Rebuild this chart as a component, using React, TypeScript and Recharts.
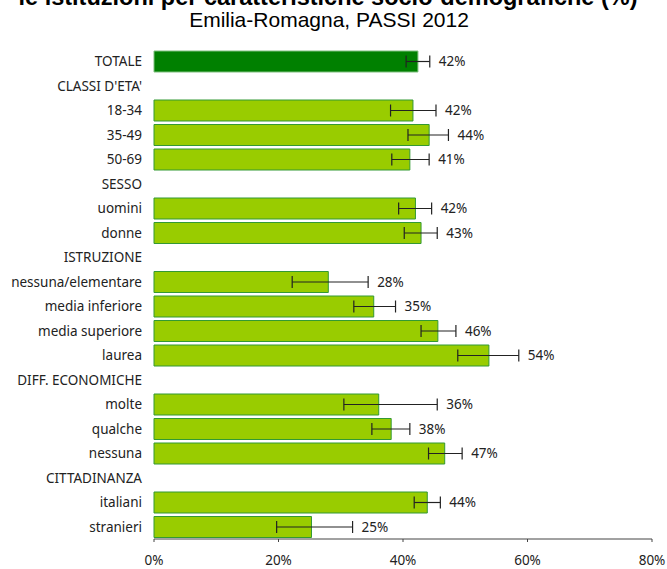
import React from 'react';
import { BarChart, Bar, XAxis, YAxis, ErrorBar, Cell, LabelList } from 'recharts';

const categories = [
  'TOTALE', "CLASSI D'ETA'", '18-34', '35-49', '50-69', 'SESSO', 'uomini', 'donne',
  'ISTRUZIONE', 'nessuna/elementare', 'media inferiore', 'media superiore', 'laurea',
  'DIFF. ECONOMICHE', 'molte', 'qualche', 'nessuna', 'CITTADINANZA', 'italiani', 'stranieri',
];
const values = [42.4, null, 41.6, 44.2, 41.1, null, 42.0, 42.9, null, 28.0, 35.3, 45.6, 53.8, null, 36.1, 38.1, 46.7, null, 43.9, 25.3];
const lows = [40.5, null, 38.0, 40.8, 38.2, null, 39.3, 40.2, null, 22.2, 32.1, 42.9, 48.8, null, 30.5, 35.0, 44.1, null, 41.8, 19.7];
const highs = [44.3, null, 45.3, 47.3, 44.2, null, 44.6, 45.5, null, 34.4, 38.8, 48.5, 58.6, null, 45.5, 41.1, 49.5, null, 46.0, 31.9];
const valueLabels = ['42%', '', '42%', '44%', '41%', '', '42%', '43%', '', '28%', '35%', '46%', '54%', '', '36%', '38%', '47%', '', '44%', '25%'];
const xTicks = [0, 20, 40, 60, 80];

const data = categories.map((name, i) => ({
  name,
  value: values[i],
  low: lows[i],
  high: highs[i],
  label: valueLabels[i],
}));

const FONT = '"Noto Sans", sans-serif';
const TITLE_FONT = '"Liberation Sans", Arial, sans-serif';

// label sits just right of the upper error whisker
const ValueLabel = (props: any) => {
  const { x, y, width, height, value } = props;
  if (!value || !width) return null;
  const [v, hi, text] = String(value).split('|');
  const pxPer = width / Number(v);
  const tx = x + Number(hi) * pxPer + 9;
  return (
    <text x={tx} y={y + height / 2} dy="0.35em" fontSize={13.5} fontFamily={FONT} fill="#222">
      {text}
    </text>
  );
};

export default function App() {
  return (
    <div style={{ position: 'absolute', left: 0, top: 0, width: 667, height: 569, background: '#fff' }}>
      <BarChart
        width={667}
        height={569}
        data={data}
        layout="vertical"
        margin={{ top: 49, right: 15, bottom: 0, left: 0 }}
        barSize={21}
      >
        <XAxis
          type="number"
          domain={[0, 80]}
          ticks={xTicks}
          tickFormatter={(v) => `${v}%`}
          height={30}
          stroke="#444"
          tickSize={3}
          tickMargin={13}
          tick={{ fontSize: 13.5, fontFamily: FONT, fill: '#222' }}
        />
        <YAxis
          type="category"
          dataKey="name"
          width={154}
          axisLine={false}
          tickLine={false}
          tickSize={0}
          tickMargin={12}
          interval={0}
          tick={{ fontSize: 13.5, fontFamily: FONT, fill: '#222' }}
        />
        <Bar dataKey="value" isAnimationActive={false} strokeWidth={1}>
          {data.map((d, i) => (
            <Cell key={i} fill={i === 0 ? '#008000' : '#99CC00'} stroke={i === 0 ? '#7fbf7f' : '#339933'} />
          ))}
          <ErrorBar
            dataKey={(d: any) => (d.value == null ? [0, 0] : [d.value - d.low, d.high - d.value])}
            direction="x"
            width={6}
            stroke="#222"
            strokeWidth={1.2}
          />
          <LabelList
            dataKey={(d: any) => (d.value == null ? '' : `${d.value}|${d.high}|${d.label}`)}
            content={ValueLabel}
          />
        </Bar>
      </BarChart>
      <svg width={667} height={569} style={{ position: 'absolute', left: 0, top: 0, pointerEvents: 'none' }}>
        <text x={328} y={5} textAnchor="middle" fontSize={23.5} fontWeight="bold" fontFamily={TITLE_FONT} fill="#000">
          le istituzioni per caratteristiche socio-demografiche (%)
        </text>
        <text x={329} y={27} textAnchor="middle" fontSize={21} fontFamily={TITLE_FONT} fill="#000">
          Emilia-Romagna, PASSI 2012
        </text>
      </svg>
    </div>
  );
}
